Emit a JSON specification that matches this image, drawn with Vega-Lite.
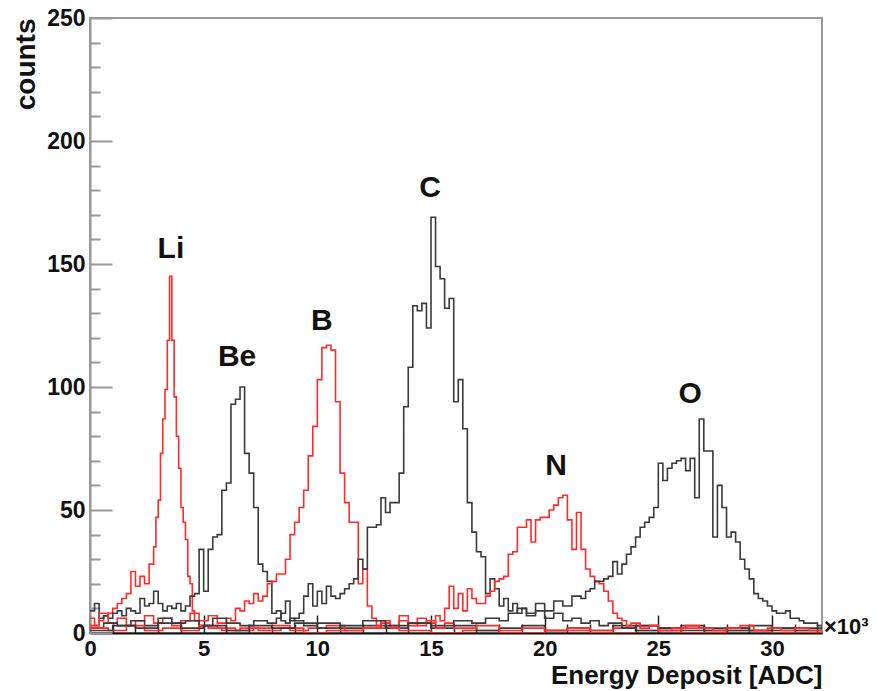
{
  "$schema": "https://vega.github.io/schema/vega-lite/v6.json",
  "width": 732,
  "height": 615,
  "autosize": "none",
  "padding": {"left": 90, "top": 18, "right": 55, "bottom": 58},
  "background": "white",
  "config": {"view": {"stroke": "#9a9a9a", "strokeWidth": 2}, "font": "Liberation Sans"},
  "datasets": {
    "hist": [
      {"s":"Li","x":0,"y":6},{"s":"Li","x":0.2,"y":3},{"s":"Li","x":0.4,"y":5},{"s":"Li","x":0.6,"y":7},{"s":"Li","x":0.8,"y":8},{"s":"Li","x":1.0,"y":10},{"s":"Li","x":1.2,"y":12},{"s":"Li","x":1.4,"y":14},{"s":"Li","x":1.6,"y":16},{"s":"Li","x":1.8,"y":25},{"s":"Li","x":2.0,"y":19},{"s":"Li","x":2.2,"y":23},{"s":"Li","x":2.4,"y":20},{"s":"Li","x":2.6,"y":28},{"s":"Li","x":2.8,"y":35},{"s":"Li","x":2.9,"y":47},{"s":"Li","x":3.0,"y":54},{"s":"Li","x":3.1,"y":73},{"s":"Li","x":3.2,"y":87},{"s":"Li","x":3.3,"y":99},{"s":"Li","x":3.4,"y":119},{"s":"Li","x":3.5,"y":145},{"s":"Li","x":3.6,"y":119},{"s":"Li","x":3.7,"y":96},{"s":"Li","x":3.8,"y":80},{"s":"Li","x":3.9,"y":67},{"s":"Li","x":4.0,"y":51},{"s":"Li","x":4.1,"y":45},{"s":"Li","x":4.2,"y":38},{"s":"Li","x":4.3,"y":23},{"s":"Li","x":4.4,"y":20},{"s":"Li","x":4.5,"y":9},{"s":"Li","x":4.6,"y":5},{"s":"Li","x":4.8,"y":3},{"s":"Li","x":5.2,"y":2},{"s":"Li","x":5.8,"y":1},{"s":"Li","x":6.6,"y":2},{"s":"Li","x":7.4,"y":1},{"s":"Li","x":8.4,"y":2},{"s":"Li","x":9.4,"y":0},{"s":"Li","x":10.4,"y":1},{"s":"Li","x":12,"y":2},{"s":"Li","x":13.6,"y":1},{"s":"Li","x":15,"y":0},{"s":"Li","x":16.4,"y":1},{"s":"Li","x":18,"y":0},{"s":"Li","x":20,"y":1},{"s":"Li","x":22,"y":0},{"s":"Li","x":24,"y":1},{"s":"Li","x":26,"y":0},{"s":"Li","x":28,"y":1},{"s":"Li","x":30,"y":0},{"s":"Li","x":32.4,"y":0},

      {"s":"Be","x":0,"y":9},{"s":"Be","x":0.2,"y":12},{"s":"Be","x":0.4,"y":6},{"s":"Be","x":0.6,"y":7},{"s":"Be","x":0.8,"y":6},{"s":"Be","x":1.0,"y":8},{"s":"Be","x":1.2,"y":9},{"s":"Be","x":1.4,"y":7},{"s":"Be","x":1.6,"y":10},{"s":"Be","x":1.8,"y":9},{"s":"Be","x":2.0,"y":8},{"s":"Be","x":2.2,"y":14},{"s":"Be","x":2.4,"y":11},{"s":"Be","x":2.6,"y":12},{"s":"Be","x":2.8,"y":17},{"s":"Be","x":3.0,"y":12},{"s":"Be","x":3.2,"y":9},{"s":"Be","x":3.4,"y":11},{"s":"Be","x":3.6,"y":10},{"s":"Be","x":3.8,"y":12},{"s":"Be","x":4.0,"y":9},{"s":"Be","x":4.2,"y":11},{"s":"Be","x":4.4,"y":15},{"s":"Be","x":4.6,"y":16},{"s":"Be","x":4.8,"y":34},{"s":"Be","x":5.0,"y":17},{"s":"Be","x":5.2,"y":34},{"s":"Be","x":5.4,"y":39},{"s":"Be","x":5.6,"y":40},{"s":"Be","x":5.8,"y":58},{"s":"Be","x":6.0,"y":61},{"s":"Be","x":6.2,"y":93},{"s":"Be","x":6.4,"y":95},{"s":"Be","x":6.6,"y":100},{"s":"Be","x":6.8,"y":73},{"s":"Be","x":7.0,"y":65},{"s":"Be","x":7.2,"y":51},{"s":"Be","x":7.4,"y":28},{"s":"Be","x":7.6,"y":25},{"s":"Be","x":7.8,"y":21},{"s":"Be","x":8.0,"y":8},{"s":"Be","x":8.2,"y":9},{"s":"Be","x":8.4,"y":5},{"s":"Be","x":8.6,"y":4},{"s":"Be","x":8.8,"y":6},{"s":"Be","x":9.0,"y":5},{"s":"Be","x":9.4,"y":3},{"s":"Be","x":10,"y":4},{"s":"Be","x":11,"y":2},{"s":"Be","x":12,"y":3},{"s":"Be","x":13,"y":2},{"s":"Be","x":14,"y":4},{"s":"Be","x":15,"y":2},{"s":"Be","x":16,"y":3},{"s":"Be","x":17,"y":1},{"s":"Be","x":18,"y":2},{"s":"Be","x":19,"y":3},{"s":"Be","x":20,"y":1},{"s":"Be","x":21,"y":2},{"s":"Be","x":22,"y":1},{"s":"Be","x":23,"y":3},{"s":"Be","x":24,"y":1},{"s":"Be","x":25,"y":2},{"s":"Be","x":26,"y":1},{"s":"Be","x":27,"y":2},{"s":"Be","x":28,"y":1},{"s":"Be","x":29,"y":3},{"s":"Be","x":30,"y":1},{"s":"Be","x":31,"y":2},{"s":"Be","x":32.4,"y":1},

      {"s":"B","x":0,"y":3},{"s":"B","x":0.4,"y":8},{"s":"B","x":0.8,"y":4},{"s":"B","x":1.2,"y":6},{"s":"B","x":1.6,"y":3},{"s":"B","x":2.0,"y":5},{"s":"B","x":2.4,"y":7},{"s":"B","x":2.8,"y":4},{"s":"B","x":3.2,"y":6},{"s":"B","x":3.6,"y":3},{"s":"B","x":4.0,"y":5},{"s":"B","x":4.4,"y":8},{"s":"B","x":4.8,"y":5},{"s":"B","x":5.2,"y":7},{"s":"B","x":5.6,"y":4},{"s":"B","x":6.0,"y":6},{"s":"B","x":6.2,"y":5},{"s":"B","x":6.4,"y":10},{"s":"B","x":6.6,"y":9},{"s":"B","x":6.8,"y":13},{"s":"B","x":7.0,"y":12},{"s":"B","x":7.2,"y":16},{"s":"B","x":7.4,"y":13},{"s":"B","x":7.6,"y":15},{"s":"B","x":7.8,"y":20},{"s":"B","x":8.0,"y":21},{"s":"B","x":8.2,"y":24},{"s":"B","x":8.4,"y":24},{"s":"B","x":8.6,"y":30},{"s":"B","x":8.8,"y":40},{"s":"B","x":9.0,"y":45},{"s":"B","x":9.2,"y":51},{"s":"B","x":9.4,"y":58},{"s":"B","x":9.6,"y":72},{"s":"B","x":9.8,"y":84},{"s":"B","x":10.0,"y":103},{"s":"B","x":10.2,"y":116},{"s":"B","x":10.4,"y":117},{"s":"B","x":10.6,"y":115},{"s":"B","x":10.8,"y":94},{"s":"B","x":11.0,"y":65},{"s":"B","x":11.2,"y":53},{"s":"B","x":11.4,"y":45},{"s":"B","x":11.6,"y":45},{"s":"B","x":11.8,"y":20},{"s":"B","x":12.0,"y":26},{"s":"B","x":12.2,"y":11},{"s":"B","x":12.4,"y":6},{"s":"B","x":12.6,"y":3},{"s":"B","x":12.8,"y":5},{"s":"B","x":13.2,"y":3},{"s":"B","x":13.6,"y":7},{"s":"B","x":14.0,"y":4},{"s":"B","x":14.4,"y":3},{"s":"B","x":14.8,"y":5},{"s":"B","x":15.2,"y":2},{"s":"B","x":15.6,"y":4},{"s":"B","x":16.0,"y":2},{"s":"B","x":17,"y":3},{"s":"B","x":18,"y":1},{"s":"B","x":19,"y":2},{"s":"B","x":20,"y":1},{"s":"B","x":21,"y":2},{"s":"B","x":22,"y":1},{"s":"B","x":23,"y":2},{"s":"B","x":24,"y":3},{"s":"B","x":25,"y":1},{"s":"B","x":26,"y":2},{"s":"B","x":27,"y":1},{"s":"B","x":28,"y":2},{"s":"B","x":29,"y":1},{"s":"B","x":30,"y":2},{"s":"B","x":31,"y":1},{"s":"B","x":32.4,"y":1},

      {"s":"C","x":0,"y":2},{"s":"C","x":0.6,"y":4},{"s":"C","x":1.2,"y":3},{"s":"C","x":1.8,"y":5},{"s":"C","x":2.4,"y":3},{"s":"C","x":3.0,"y":6},{"s":"C","x":3.6,"y":4},{"s":"C","x":4.2,"y":5},{"s":"C","x":4.8,"y":3},{"s":"C","x":5.4,"y":6},{"s":"C","x":6.0,"y":4},{"s":"C","x":6.6,"y":3},{"s":"C","x":7.2,"y":5},{"s":"C","x":7.8,"y":4},{"s":"C","x":8.2,"y":6},{"s":"C","x":8.4,"y":8},{"s":"C","x":8.6,"y":13},{"s":"C","x":8.8,"y":5},{"s":"C","x":9.0,"y":6},{"s":"C","x":9.2,"y":8},{"s":"C","x":9.4,"y":15},{"s":"C","x":9.6,"y":20},{"s":"C","x":9.8,"y":11},{"s":"C","x":10.0,"y":17},{"s":"C","x":10.2,"y":12},{"s":"C","x":10.4,"y":19},{"s":"C","x":10.6,"y":15},{"s":"C","x":10.8,"y":14},{"s":"C","x":11.0,"y":16},{"s":"C","x":11.2,"y":18},{"s":"C","x":11.4,"y":20},{"s":"C","x":11.6,"y":22},{"s":"C","x":11.8,"y":30},{"s":"C","x":12.0,"y":26},{"s":"C","x":12.2,"y":43},{"s":"C","x":12.4,"y":43},{"s":"C","x":12.6,"y":44},{"s":"C","x":12.8,"y":55},{"s":"C","x":13.0,"y":49},{"s":"C","x":13.2,"y":53},{"s":"C","x":13.4,"y":53},{"s":"C","x":13.6,"y":65},{"s":"C","x":13.8,"y":92},{"s":"C","x":14.0,"y":108},{"s":"C","x":14.2,"y":133},{"s":"C","x":14.4,"y":131},{"s":"C","x":14.6,"y":134},{"s":"C","x":14.8,"y":124},{"s":"C","x":15.0,"y":169},{"s":"C","x":15.2,"y":149},{"s":"C","x":15.4,"y":144},{"s":"C","x":15.6,"y":132},{"s":"C","x":15.8,"y":136},{"s":"C","x":16.0,"y":94},{"s":"C","x":16.2,"y":103},{"s":"C","x":16.4,"y":83},{"s":"C","x":16.6,"y":53},{"s":"C","x":16.8,"y":41},{"s":"C","x":17.0,"y":33},{"s":"C","x":17.2,"y":31},{"s":"C","x":17.4,"y":16},{"s":"C","x":17.6,"y":22},{"s":"C","x":17.8,"y":18},{"s":"C","x":18.0,"y":11},{"s":"C","x":18.2,"y":14},{"s":"C","x":18.4,"y":9},{"s":"C","x":18.6,"y":12},{"s":"C","x":18.8,"y":8},{"s":"C","x":19.0,"y":10},{"s":"C","x":19.2,"y":7},{"s":"C","x":19.6,"y":9},{"s":"C","x":20.0,"y":6},{"s":"C","x":20.4,"y":8},{"s":"C","x":20.8,"y":5},{"s":"C","x":21.2,"y":6},{"s":"C","x":21.6,"y":4},{"s":"C","x":22.0,"y":5},{"s":"C","x":22.4,"y":3},{"s":"C","x":22.8,"y":4},{"s":"C","x":23.4,"y":2},{"s":"C","x":24,"y":3},{"s":"C","x":25,"y":2},{"s":"C","x":26,"y":3},{"s":"C","x":27,"y":1},{"s":"C","x":28,"y":2},{"s":"C","x":29,"y":1},{"s":"C","x":30,"y":2},{"s":"C","x":31,"y":1},{"s":"C","x":32.4,"y":1},

      {"s":"N","x":0,"y":2},{"s":"N","x":0.8,"y":1},{"s":"N","x":1.6,"y":3},{"s":"N","x":2.4,"y":1},{"s":"N","x":3.2,"y":2},{"s":"N","x":4.0,"y":1},{"s":"N","x":4.8,"y":3},{"s":"N","x":5.6,"y":2},{"s":"N","x":6.4,"y":1},{"s":"N","x":7.2,"y":2},{"s":"N","x":8.0,"y":3},{"s":"N","x":8.8,"y":1},{"s":"N","x":9.6,"y":2},{"s":"N","x":10.4,"y":3},{"s":"N","x":11.2,"y":1},{"s":"N","x":12.0,"y":2},{"s":"N","x":12.8,"y":4},{"s":"N","x":13.2,"y":2},{"s":"N","x":13.6,"y":5},{"s":"N","x":14.0,"y":3},{"s":"N","x":14.4,"y":6},{"s":"N","x":14.8,"y":4},{"s":"N","x":15.2,"y":7},{"s":"N","x":15.4,"y":5},{"s":"N","x":15.6,"y":10},{"s":"N","x":15.8,"y":19},{"s":"N","x":16.0,"y":10},{"s":"N","x":16.2,"y":16},{"s":"N","x":16.4,"y":9},{"s":"N","x":16.6,"y":18},{"s":"N","x":16.8,"y":14},{"s":"N","x":17.0,"y":12},{"s":"N","x":17.2,"y":12},{"s":"N","x":17.4,"y":15},{"s":"N","x":17.6,"y":17},{"s":"N","x":17.8,"y":21},{"s":"N","x":18.0,"y":22},{"s":"N","x":18.2,"y":23},{"s":"N","x":18.4,"y":32},{"s":"N","x":18.6,"y":33},{"s":"N","x":18.8,"y":43},{"s":"N","x":19.0,"y":43},{"s":"N","x":19.2,"y":46},{"s":"N","x":19.4,"y":37},{"s":"N","x":19.6,"y":46},{"s":"N","x":19.8,"y":47},{"s":"N","x":20.0,"y":47},{"s":"N","x":20.2,"y":50},{"s":"N","x":20.4,"y":52},{"s":"N","x":20.6,"y":55},{"s":"N","x":20.8,"y":56},{"s":"N","x":21.0,"y":46},{"s":"N","x":21.2,"y":34},{"s":"N","x":21.4,"y":49},{"s":"N","x":21.6,"y":34},{"s":"N","x":21.8,"y":26},{"s":"N","x":22.0,"y":23},{"s":"N","x":22.2,"y":21},{"s":"N","x":22.4,"y":20},{"s":"N","x":22.6,"y":17},{"s":"N","x":22.8,"y":13},{"s":"N","x":23.0,"y":8},{"s":"N","x":23.2,"y":6},{"s":"N","x":23.4,"y":5},{"s":"N","x":23.6,"y":3},{"s":"N","x":23.8,"y":4},{"s":"N","x":24.2,"y":2},{"s":"N","x":24.6,"y":3},{"s":"N","x":25.0,"y":1},{"s":"N","x":25.6,"y":2},{"s":"N","x":26.2,"y":3},{"s":"N","x":26.8,"y":2},{"s":"N","x":27.4,"y":1},{"s":"N","x":28.0,"y":2},{"s":"N","x":28.6,"y":3},{"s":"N","x":29.2,"y":1},{"s":"N","x":29.8,"y":2},{"s":"N","x":30.4,"y":1},{"s":"N","x":31.0,"y":2},{"s":"N","x":31.6,"y":1},{"s":"N","x":32.4,"y":1},

      {"s":"O","x":0,"y":1},{"s":"O","x":1,"y":3},{"s":"O","x":2,"y":2},{"s":"O","x":3,"y":4},{"s":"O","x":4,"y":2},{"s":"O","x":5,"y":3},{"s":"O","x":6,"y":1},{"s":"O","x":7,"y":3},{"s":"O","x":8,"y":2},{"s":"O","x":9,"y":4},{"s":"O","x":10,"y":2},{"s":"O","x":11,"y":3},{"s":"O","x":12,"y":5},{"s":"O","x":13,"y":3},{"s":"O","x":14,"y":4},{"s":"O","x":15,"y":3},{"s":"O","x":16,"y":5},{"s":"O","x":16.8,"y":4},{"s":"O","x":17.4,"y":6},{"s":"O","x":18.0,"y":5},{"s":"O","x":18.4,"y":8},{"s":"O","x":18.8,"y":10},{"s":"O","x":19.2,"y":8},{"s":"O","x":19.6,"y":12},{"s":"O","x":20.0,"y":9},{"s":"O","x":20.4,"y":13},{"s":"O","x":20.8,"y":11},{"s":"O","x":21.2,"y":15},{"s":"O","x":21.6,"y":14},{"s":"O","x":21.8,"y":17},{"s":"O","x":22.0,"y":18},{"s":"O","x":22.2,"y":21},{"s":"O","x":22.4,"y":21},{"s":"O","x":22.6,"y":22},{"s":"O","x":22.8,"y":23},{"s":"O","x":23.0,"y":29},{"s":"O","x":23.2,"y":24},{"s":"O","x":23.4,"y":28},{"s":"O","x":23.6,"y":32},{"s":"O","x":23.8,"y":35},{"s":"O","x":24.0,"y":39},{"s":"O","x":24.2,"y":43},{"s":"O","x":24.4,"y":45},{"s":"O","x":24.6,"y":47},{"s":"O","x":24.8,"y":51},{"s":"O","x":25.0,"y":69},{"s":"O","x":25.2,"y":62},{"s":"O","x":25.4,"y":67},{"s":"O","x":25.6,"y":69},{"s":"O","x":25.8,"y":70},{"s":"O","x":26.0,"y":71},{"s":"O","x":26.2,"y":66},{"s":"O","x":26.4,"y":71},{"s":"O","x":26.6,"y":55},{"s":"O","x":26.8,"y":87},{"s":"O","x":27.0,"y":74},{"s":"O","x":27.2,"y":74},{"s":"O","x":27.4,"y":39},{"s":"O","x":27.6,"y":60},{"s":"O","x":27.8,"y":51},{"s":"O","x":28.0,"y":39},{"s":"O","x":28.2,"y":41},{"s":"O","x":28.4,"y":37},{"s":"O","x":28.6,"y":30},{"s":"O","x":28.8,"y":26},{"s":"O","x":29.0,"y":22},{"s":"O","x":29.2,"y":16},{"s":"O","x":29.4,"y":14},{"s":"O","x":29.6,"y":13},{"s":"O","x":29.8,"y":11},{"s":"O","x":30.0,"y":9},{"s":"O","x":30.2,"y":8},{"s":"O","x":30.4,"y":8},{"s":"O","x":30.6,"y":9},{"s":"O","x":30.8,"y":6},{"s":"O","x":31.0,"y":6},{"s":"O","x":31.2,"y":5},{"s":"O","x":31.4,"y":4},{"s":"O","x":31.6,"y":4},{"s":"O","x":31.8,"y":4},{"s":"O","x":32.0,"y":3},{"s":"O","x":32.4,"y":3}
    ],
    "labels": [
      {"t":"Li","x":3.56,"y":156},
      {"t":"Be","x":6.47,"y":112},
      {"t":"B","x":10.2,"y":127},
      {"t":"C","x":14.96,"y":181},
      {"t":"N","x":20.5,"y":68},
      {"t":"O","x":26.4,"y":97}
    ],
    "unit": [{"t":"×10³","x":32.2,"y":0}]
  },
  "layer": [
    {
      "data": {"name": "hist"},
      "mark": {"type": "line", "interpolate": "step-after", "strokeWidth": 1.6, "clip": true},
      "encoding": {
        "x": {"field": "x", "type": "quantitative",
          "scale": {"domain": [0, 32.2], "nice": false, "zero": false},
          "axis": {"title": "Energy Deposit [ADC]", "values": [0,5,10,15,20,25,30], "tickSize": -18, "tickColor": "#222", "tickWidth": 1.5,
            "domainColor": "#111", "domainWidth": 2, "grid": false, "labelFont": "Liberation Sans", "labelFontWeight": "bold", "labelFontSize": 22,
            "labelColor": "#111", "labelPadding": 23, "labelFlush": false, "titleFont": "Liberation Sans", "titleFontSize": 26, "titleFontWeight": "bold",
            "titleColor": "#111", "titleAnchor": "end", "titlePadding": 3}},
        "y": {"field": "y", "type": "quantitative",
          "scale": {"domain": [0, 250], "nice": false},
          "axis": {"title": "counts", "values": [0,50,100,150,200,250], "tickSize": -22, "tickColor": "#999", "tickWidth": 2,
            "domainColor": "#999", "domainWidth": 2, "grid": false, "labelFont": "Liberation Sans", "labelFontWeight": "bold", "labelFontSize": 23,
            "labelColor": "#111", "labelPadding": 27, "labelFlush": false, "titleFont": "Liberation Sans", "titleFontSize": 28, "titleFontWeight": "bold",
            "titleColor": "#111", "titleAnchor": "end", "titlePadding": 6}},
        "color": {"field": "s", "type": "nominal",
          "scale": {"domain": ["Li","Be","B","C","N","O"], "range": ["#ff2b2b","#3a3a3a","#ff2b2b","#3a3a3a","#ff2b2b","#3a3a3a"]},
          "legend": null}
      }
    },
    {
      "data": {"name": "labels"},
      "mark": {"type": "text", "font": "Liberation Sans", "fontWeight": "bold", "fontSize": 30, "color": "#111", "baseline": "middle", "align": "center"},
      "encoding": {
        "x": {"field": "x", "type": "quantitative", "scale": {"domain": [0, 32.2], "nice": false, "zero": false},
          "axis": {"orient": "bottom", "values": [1,2,3,4,6,7,8,9,11,12,13,14,16,17,18,19,21,22,23,24,26,27,28,29,31,32], "tickSize": -9, "tickColor": "#222", "tickWidth": 1.5, "labels": false, "domain": false, "grid": false, "title": null}},
        "y": {"field": "y", "type": "quantitative", "scale": {"domain": [0, 250], "nice": false},
          "axis": {"orient": "left", "values": [10,20,30,40,60,70,80,90,110,120,130,140,160,170,180,190,210,220,230,240], "tickSize": -10, "tickColor": "#999", "tickWidth": 2, "labels": false, "domain": false, "grid": false, "title": null}},
        "text": {"field": "t"}
      }
    },
    {
      "data": {"name": "unit"},
      "mark": {"type": "text", "font": "Liberation Sans", "fontWeight": "bold", "fontSize": 22, "color": "#111", "baseline": "alphabetic", "align": "left", "dx": 2, "dy": 1},
      "encoding": {
        "x": {"field": "x", "type": "quantitative", "scale": {"domain": [0, 32.2], "nice": false, "zero": false}, "axis": null},
        "y": {"field": "y", "type": "quantitative", "scale": {"domain": [0, 250], "nice": false}, "axis": null},
        "text": {"field": "t"}
      }
    }
  ],
  "resolve": {"axis": {"x": "independent", "y": "independent"}}
}
